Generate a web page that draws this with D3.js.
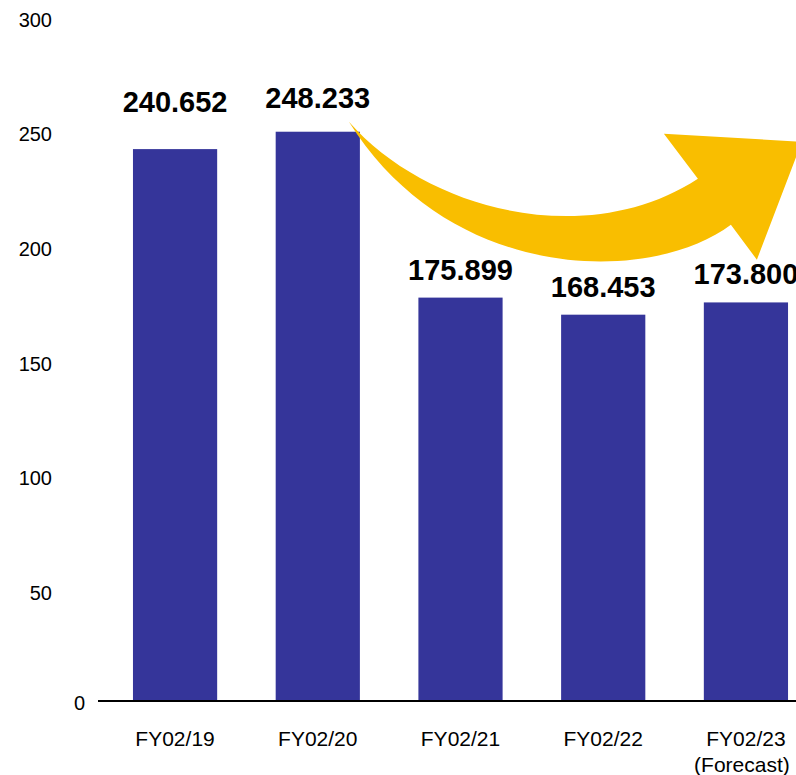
<!DOCTYPE html>
<html>
<head>
<meta charset="utf-8">
<script src="https://cdn.jsdelivr.net/npm/d3@7"></script>
<style>
  body { margin: 0; background: #fff; }
  text { font-family: "Liberation Sans", Arial, sans-serif; }
</style>
</head>
<body>
<svg id="chart"></svg>
<script>
const categories = ['FY02/19', 'FY02/20', 'FY02/21', 'FY02/22', 'FY02/23'];
const subLabels = ['', '', '', '', '(Forecast)'];
const values = [240.652, 248.233, 175.899, 168.453, 173.800];
const yTicks = [0, 50, 100, 150, 200, 250, 300];

const w = 796, h = 775;
const baseY = 701;

const svg = d3.select('#chart')
  .attr('width', w)
  .attr('height', h);

// scales
var x = d3.scaleBand()
  .domain(categories)
  .range([98, 823])
  .paddingInner(0.41)
  .paddingOuter(0.245);

var y = d3.scaleLinear()
  .domain([0, 300])
  .range([baseY, 13]);

// y labels, no axis line
var yAxis = svg.append('g')
  .attr('transform', 'translate(52,0)')
  .call(d3.axisLeft(y).tickValues(yTicks).tickSize(0).tickPadding(0));
yAxis.select('.domain').remove();
yAxis.selectAll('text')
  .attr('font-size', 20)
  .attr('fill', '#000')
  .attr('dy', '0.65em')
  .style('font-family', '"Liberation Sans", Arial, sans-serif');
// the zero sits closer to the baseline
yAxis.selectAll('.tick')
  .filter(function(d){ return d === 0; })
  .select('text')
  .attr('x', 33)
  .attr('dy', '0.42em');

// bars
svg.selectAll('rect.bar')
  .data(values)
  .enter()
  .append('rect')
  .attr('class', 'bar')
  .attr('x', function(d, i){ return x(categories[i]); })
  .attr('y', function(d){ return y(d); })
  .attr('width', x.bandwidth())
  .attr('height', function(d){ return y(0) - y(d); })
  .attr('fill', '#35359a');

// curved arrow, anchored at top right corner of the FY02/20 bar
var ax = x(categories[1]) + x.bandwidth();
var ay = y(values[1]);
var arrow = d3.path();
arrow.moveTo(ax - 11, ay - 10);
arrow.bezierCurveTo(ax + 66, ay + 78, ax + 226, ay + 120, ax + 338, ay + 47);
arrow.lineTo(ax + 304, ay + 2);
arrow.lineTo(ax + 442, ay + 10);
arrow.lineTo(ax + 397, ay + 128);
arrow.lineTo(ax + 371, ay + 93);
arrow.bezierCurveTo(ax + 291, ay + 153, ax + 91, ay + 153, ax - 11, ay - 10);
arrow.closePath();
svg.append('path')
  .attr('d', arrow.toString())
  .attr('fill', '#f9be00');

// axis line
svg.append('line')
  .attr('x1', 98)
  .attr('x2', w)
  .attr('y1', y(0))
  .attr('y2', y(0))
  .attr('stroke', '#000')
  .attr('stroke-width', 2);

// value labels
const labelLift = [37, 24, 18, 18, 18];
svg.selectAll('text.value')
  .data(values)
  .enter()
  .append('text')
  .attr('class', 'value')
  .attr('x', function(d, i){ return x(categories[i]) + x.bandwidth() / 2; })
  .attr('y', function(d, i){ return y(d) - labelLift[i]; })
  .attr('text-anchor', 'middle')
  .attr('font-size', 29)
  .attr('font-weight', 'bold')
  .attr('fill', '#000')
  .text(function(d){ return d3.format('.3f')(d); });

// category labels
svg.selectAll('text.cat')
  .data(categories)
  .enter()
  .append('text')
  .attr('class', 'cat')
  .attr('x', function(d){ return x(d) + x.bandwidth() / 2; })
  .attr('y', baseY + 45)
  .attr('text-anchor', 'middle')
  .attr('font-size', 21)
  .attr('fill', '#000')
  .text(function(d){ return d; });

svg.selectAll('text.sub')
  .data(subLabels)
  .enter()
  .append('text')
  .attr('class', 'sub')
  .attr('x', function(d, i){ return x(categories[i]) + x.bandwidth() / 2 - 4; })
  .attr('y', baseY + 71)
  .attr('text-anchor', 'middle')
  .attr('font-size', 21)
  .attr('fill', '#000')
  .text(function(d){ return d; });
</script>
</body>
</html>
